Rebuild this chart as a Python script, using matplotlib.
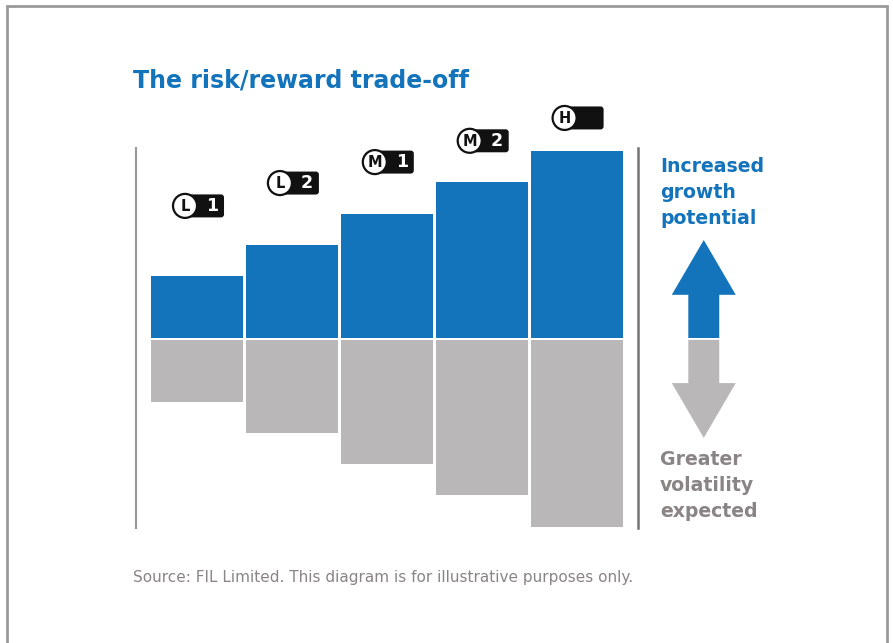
import matplotlib.pyplot as plt
from matplotlib.patches import Circle, FancyBboxPatch, FancyArrow, Rectangle
from matplotlib.transforms import ScaledTranslation

# Datos
categorias = ['L1', 'L2', 'M1', 'M2', 'H']
letras = ['L', 'L', 'M', 'M', 'H']
numeros = ['1', '2', '1', '2', '']
crecimiento = [2, 3, 4, 5, 6]
volatilidad = [2, 3, 4, 5, 6]
altura_etiqueta = [4.25, 4.98, 5.65, 6.33, 7.06]

azul = '#1373BB'
gris = '#B9B7B7'
gris_texto = '#8A8484'

fig = plt.figure(figsize=(8.93, 6.43), dpi=100)
ax = fig.add_axes([136 / 893, 1 - 528 / 643, 502 / 893, 380 / 643])

x = list(range(len(categorias)))
hueco = 0.035
ax.bar(x, [v - hueco for v in crecimiento], bottom=hueco, width=0.97, color=azul)
ax.bar(x, [-(v - hueco) for v in volatilidad], bottom=-hueco, width=0.97, color=gris)

ax.set_xlim(-0.643, 4.647)
ax.set_ylim(-6.04, 6.10)
ax.set_xticks([])
ax.set_yticks([])
ax.spines['top'].set_visible(False)
ax.spines['bottom'].set_visible(False)
ax.spines['left'].set_color('#9C9696')
ax.spines['left'].set_linewidth(1.5)
ax.spines['right'].set_color('#777272')
ax.spines['right'].set_linewidth(1.8)

# Etiquetas tipo insignia
for i in x:
    tr = fig.dpi_scale_trans + ScaledTranslation(i, altura_etiqueta[i], ax.transData)
    caja = FancyBboxPatch((-0.12, -0.115), 0.39, 0.23,
                          boxstyle='round,pad=0,rounding_size=0.03',
                          fc='#111111', ec='none', transform=tr, clip_on=False)
    ax.add_patch(caja)
    circ = Circle((-0.12, 0), 0.12, fc='white', ec='#111111', lw=1.6,
                  transform=tr, clip_on=False)
    ax.add_patch(circ)
    ax.text(-0.12, -0.003, letras[i], transform=tr, ha='center', va='center',
            fontsize=10.5, fontweight='bold', color='#111111')
    ax.text(0.15, -0.003, numeros[i], transform=tr, ha='center', va='center',
            fontsize=12.5, fontweight='bold', color='white')

# Flechas
ax.add_patch(FancyArrow(5.34, 0.03, 0, 3.13, width=0.326, head_width=0.674,
                        head_length=1.75, length_includes_head=True,
                        color=azul, lw=0, clip_on=False))
ax.add_patch(FancyArrow(5.34, -0.03, 0, -3.13, width=0.326, head_width=0.674,
                        head_length=1.75, length_includes_head=True,
                        color=gris, lw=0, clip_on=False))

fig.text(133 / 893, 1 - 88 / 643, 'The risk/reward trade-off', color=azul,
         fontsize=17, fontweight='bold', va='baseline', ha='left')

lineas_arriba = ['Increased', 'growth', 'potential']
lineas_abajo = ['Greater', 'volatility', 'expected']
for k in range(3):
    fig.text(660 / 893, 1 - (172 + 26 * k) / 643, lineas_arriba[k], color=azul,
             fontsize=13.6, fontweight='bold', va='baseline', ha='left')
    fig.text(660 / 893, 1 - (465 + 26 * k) / 643, lineas_abajo[k], color=gris_texto,
             fontsize=13.6, fontweight='bold', va='baseline', ha='left')

fig.text(133 / 893, 1 - 582 / 643,
         'Source: FIL Limited. This diagram is for illustrative purposes only.',
         color=gris_texto, fontsize=11, va='baseline', ha='left')

# Marco
fig.add_artist(Rectangle((7 / 893, -0.1), 880 / 893, 1.1 - 6 / 643,
                         transform=fig.transFigure, fill=False,
                         ec='#9A9A9A', lw=2))

plt.savefig('out.png', dpi=100)
